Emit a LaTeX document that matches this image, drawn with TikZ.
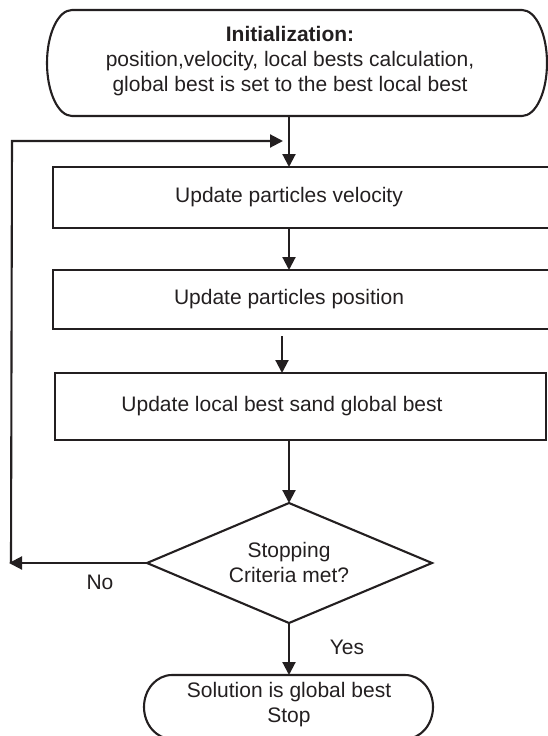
\documentclass[tikz,border=0pt]{standalone}
\usepackage{fontspec}
\setmainfont{Liberation Sans}
\usetikzlibrary{arrows.meta}
\definecolor{ink}{HTML}{231F20}
\begin{document}
\begin{tikzpicture}[x=1pt,y=1pt,
  line/.style={draw=ink,line width=2.1pt},
  arr/.style={line,-{Triangle[length=13pt,width=13pt]}},
  txt/.style={text=ink,font=\fontsize{21}{25}\selectfont,align=center,inner sep=0pt},
  box/.style={line,inner sep=0pt,outer sep=0pt,anchor=north west}]
\useasboundingbox (0,0) rectangle (547,-736);
% start terminator
\draw[line] (72,-10) -- (522,-10) arc[start angle=90,end angle=-90,x radius=25,y radius=53]
  -- (72,-116) arc[start angle=270,end angle=90,x radius=25,y radius=53] -- cycle;
\node[txt] (init) at (290,-61) {\textbf{Initialization:}\\position,velocity, local bests calculation,\\global best is set to the best local best};
\coordinate (initb) at (289,-116);
% boxes
\node[box,minimum width=510,minimum height=61] (r1) at (53,-167) {};
\node[txt] (r1t) at (289,-197) {Update particles velocity};
\node[box,minimum width=510,minimum height=59] (r2) at (53,-270) {};
\node[txt] (r2t) at (289,-299) {Update particles position};
\node[box,minimum width=491,minimum height=67] (r3) at (55,-373) {};
\node[txt] (r3t) at (282,-406) {Update local best sand global best};
% decision
\coordinate (dt) at (289,-503);
\coordinate (dr) at (432,-563);
\coordinate (db) at (289,-623);
\coordinate (dl) at (147,-563);
\draw[line] (dt) -- (dr) -- (db) -- (dl) -- cycle;
\node[txt] (dia) at (289,-562) {Stopping\\Criteria met?};
% stop terminator
\draw[line] (172,-675) -- (405,-675) arc[start angle=90,end angle=-90,x radius=28,y radius=32]
  -- (172,-739) arc[start angle=270,end angle=90,x radius=28,y radius=32] -- cycle;
\node[txt] (stop) at (289,-705) {Solution is global best\\Stop};
\coordinate (stopt) at (289,-675);
% connectors
\draw[arr] (initb) -- (initb |- r1.north);
\draw[arr] (initb |- r1.south) -- (initb |- r2.north);
\coordinate (p2) at (282,-336);
\draw[arr] (p2) -- (p2 |- r3.north);
\draw[arr] (initb |- r3.south) -- (dt);
\draw[arr] (db) -- (stopt);
\coordinate (fbb) at (9,-563);
\coordinate (fbt) at (12,-141);
\coordinate (fbe) at (283,-141);
\draw[arr] (dl) -- (fbb);
\draw[arr] (11,-563) -- (fbt) -- (fbe);
% labels
\node[txt] (no) at (100,-582) {No};
\node[txt] (yes) at (347,-647) {Yes};
\end{tikzpicture}
\end{document}
